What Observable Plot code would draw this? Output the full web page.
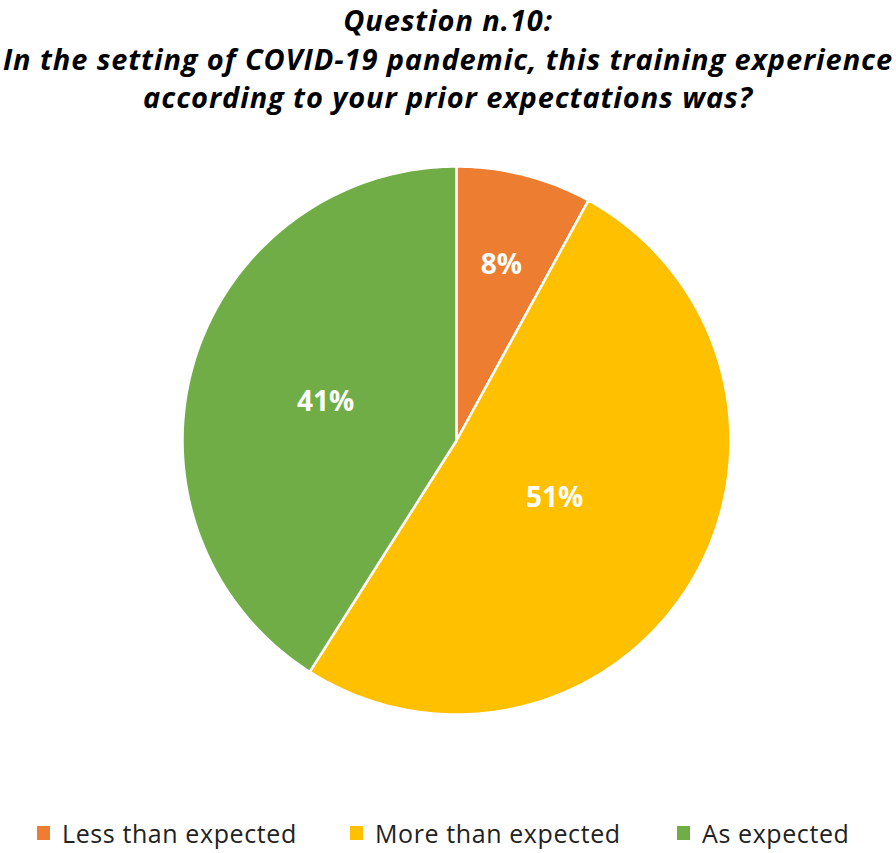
<!DOCTYPE html>
<html>
<head>
<meta charset="utf-8">
<script src="https://cdn.jsdelivr.net/npm/d3@7"></script>
<script src="https://cdn.jsdelivr.net/npm/@observablehq/plot@0.6"></script>
<style>
  html, body { margin: 0; padding: 0; background: #fff; width: 896px; height: 853px; overflow: hidden; }
  #title { font-family: "Open Sans", sans-serif; font-weight: 700; font-style: italic; font-size: 29px; letter-spacing: 0.9px; text-align: center; color: #000; height: 117px; white-space: nowrap; }
  #title .l1 { line-height: 40px; }
  #title .l2 { line-height: 38px; }
  #chart { height: 680px; }
  #legend { position: relative; height: 56px; font-family: "Open Sans", sans-serif; font-size: 25px; letter-spacing: 0.6px; color: #222; }
  .item { position: absolute; top: 19px; display: flex; align-items: center; }
  .sw { width: 13px; height: 14px; margin-right: 12px; }
</style>
</head>
<body>
<div id="title"><div class="l1">Question n.10:</div><div class="l2">In the setting of COVID-19 pandemic, this training experience</div><div class="l2">according to your prior expectations was?</div></div>
<div id="chart"></div>
<div id="legend"></div>
<script>
const categories = ["Less than expected", "More than expected", "As expected"];
const values = [8, 51, 41];
const labels = ["8%", "51%", "41%"];
const colors = ["#ED7D31", "#FFC000", "#70AD47"];

const total = d3.sum(values);
const slices = [];
const labelPts = [];
let acc = 0;
values.forEach((v, i) => {
  const a0 = acc / total * 2 * Math.PI;
  acc += v;
  const a1 = acc / total * 2 * Math.PI;
  const n = Math.max(4, Math.ceil((a1 - a0) / (Math.PI / 180)));
  slices.push({cat: categories[i], x: 0, y: 0});
  for (let k = 0; k <= n; k++) {
    const a = a0 + (a1 - a0) * k / n;
    slices.push({cat: categories[i], x: Math.sin(a), y: Math.cos(a)});
  }
  const half = (a1 - a0) / 2;
  const mid = a0 + half;
  const r = 2 * Math.sin(half) / (3 * half);
  labelPts.push({label: labels[i], x: r * Math.sin(mid), y: r * Math.cos(mid)});
});

const W = 896, H = 680, cx = 456, cy = 323, R = 274;
const chart = Plot.plot({
  width: W,
  height: H,
  marginLeft: cx - R,
  marginRight: W - (cx + R),
  marginTop: cy - R,
  marginBottom: H - (cy + R),
  x: {domain: [-1, 1], axis: null},
  y: {domain: [-1, 1], axis: null},
  color: {domain: categories, range: colors},
  style: {background: "#fff", fontFamily: "Open Sans, sans-serif"},
  marks: [
    Plot.line(slices, {x: "x", y: "y", z: "cat", fill: "cat", stroke: "#fff", strokeWidth: 2.5, curve: "linear-closed"}),
    Plot.text(labelPts, {x: "x", y: "y", text: "label", fill: "#fff", fontSize: 28, fontWeight: "bold"})
  ]
});
document.getElementById("chart").appendChild(chart);

const legendLeft = [37, 350, 677];
const legend = document.getElementById("legend");
categories.forEach((c, i) => {
  const it = document.createElement("div");
  it.className = "item";
  it.style.left = legendLeft[i] + "px";
  it.innerHTML = `<div class="sw" style="background:${colors[i]}"></div><span>${c}</span>`;
  legend.appendChild(it);
});
</script>
</body>
</html>
